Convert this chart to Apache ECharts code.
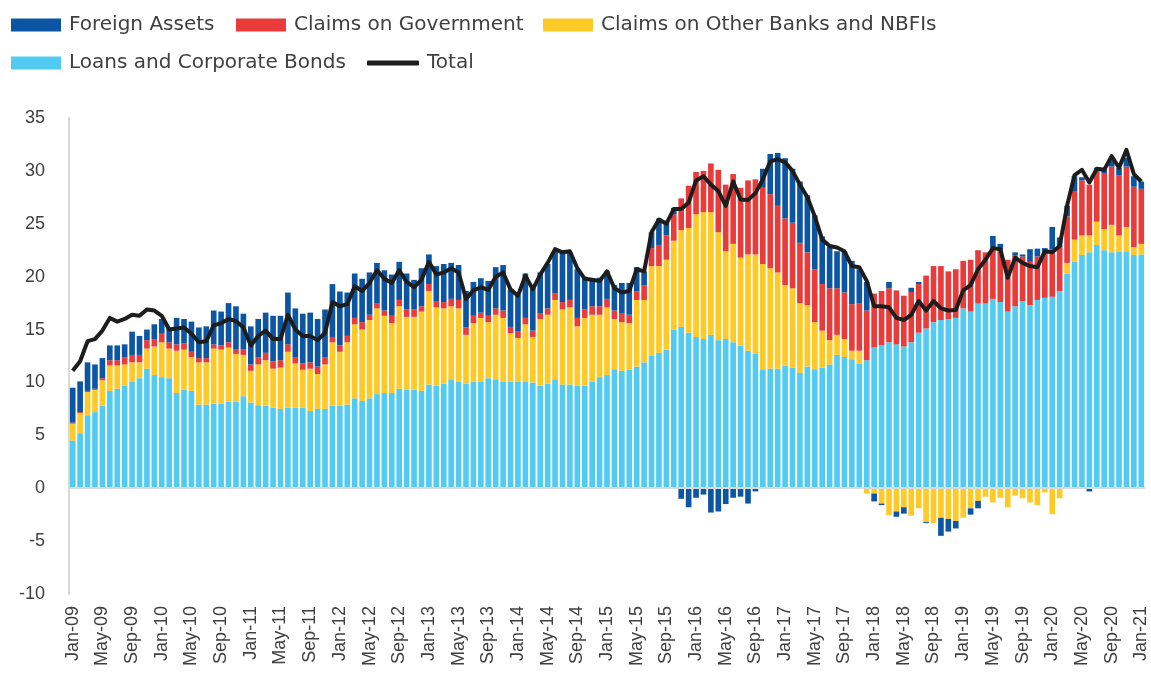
<!DOCTYPE html>
<html>
<head>
<meta charset="utf-8">
<script src="https://cdn.jsdelivr.net/npm/echarts@6/dist/echarts.min.js"></script>
<style>
html,body{margin:0;padding:0;background:#fff;}
#chart{width:1151px;height:677px;}
</style>
</head>
<body>
<div id="chart"></div>
<script>
// ---- Data (monthly, Jan-09 .. Jan-21) ----
const monthNames = ['Jan','Feb','Mar','Apr','May','Jun','Jul','Aug','Sep','Oct','Nov','Dec'];
const years = ['09','10','11','12','13','14','15','16','17','18','19','20','21'];

const loansCorporateBonds = [
  4.5,5.2,6.9,7.2,7.8,9.2,9.4,9.7,10.1,10.4,11.3,10.7,
  10.5,10.4,9.0,9.3,9.2,7.9,7.9,8.0,8.0,8.2,8.2,8.7,
  8.1,7.85,7.8,7.6,7.5,7.6,7.6,7.6,7.3,7.5,7.5,7.8,
  7.8,7.9,8.5,8.25,8.5,8.9,9.0,9.0,9.4,9.3,9.3,9.2,
  9.8,9.7,9.9,10.3,10.1,9.9,10.05,10.05,10.4,10.3,10.1,10.05,
  10.1,10.1,10.0,9.7,9.9,10.3,9.8,9.8,9.7,9.7,10.1,10.5,
  10.7,11.25,11.1,11.2,11.5,11.9,12.5,12.8,13.1,15.0,15.25,14.7,
  14.3,14.1,14.5,14.0,14.1,13.8,13.5,13.0,12.7,11.25,11.3,11.3,
  11.6,11.4,10.9,11.5,11.25,11.4,11.7,12.6,12.4,12.2,11.8,12.1,
  13.3,13.5,13.8,13.6,13.4,13.8,14.7,15.1,15.7,15.9,16.0,16.1,
  17.0,16.7,17.45,17.45,17.9,17.6,16.7,17.2,17.7,17.3,17.8,18.0,
  18.1,18.65,20.3,21.4,22.05,22.3,23.0,22.5,22.3,22.4,22.4,22.05,
  22.1
];
const claimsOtherBanks = [
  1.6,1.9,2.2,2.1,2.4,2.4,2.2,2.0,1.8,1.5,1.9,2.7,
  3.3,2.8,4.0,3.8,3.2,4.0,4.0,5.2,5.1,5.1,4.5,3.9,
  3.0,3.85,4.3,3.7,3.9,5.3,4.2,3.6,4.0,3.3,4.2,6.0,
  5.1,5.9,7.0,6.75,7.4,8.1,7.3,6.6,7.8,6.9,6.9,7.5,
  8.85,7.4,7.1,6.9,6.9,4.6,5.55,6.05,5.3,6.1,6.0,4.6,
  4.1,5.4,4.3,6.3,6.5,7.5,7.1,7.3,5.6,6.4,6.3,5.9,
  6.4,4.75,4.6,4.4,6.3,5.9,8.5,8.2,8.5,8.4,9.15,9.9,
  11.6,12.0,11.6,10.2,8.3,9.3,8.3,9.1,9.4,9.95,9.5,9.1,
  7.6,7.5,6.6,5.8,4.45,3.5,2.3,1.9,1.7,0.8,1.2,-0.5,
  -0.5,-1.45,-2.55,-2.2,-1.8,-2.6,-1.9,-3.2,-3.3,-2.8,-2.9,-3.1,
  -2.8,-1.9,-1.2,-0.8,-1.35,-0.9,-1.8,-0.7,-0.95,-1.35,-1.6,-0.4,
  -2.45,-0.95,1.0,2.1,1.85,1.6,2.2,2.0,2.6,1.5,2.3,0.75,
  1.0
];
const claimsGovernment = [
  0.1,0.1,0.1,0.1,0.2,0.5,0.5,0.65,0.7,0.7,0.8,0.7,
  0.8,0.6,0.6,0.6,0.5,0.4,0.4,0.4,0.4,0.5,0.4,0.5,
  0.6,0.65,0.7,0.7,0.7,0.7,0.6,0.6,0.6,0.7,0.65,0.5,
  0.6,0.6,0.6,0.7,0.5,0.5,0.5,0.7,0.6,0.7,0.7,0.5,
  0.65,0.6,0.6,0.7,0.8,0.7,0.7,0.5,0.6,0.6,0.7,0.6,
  0.6,0.6,0.6,0.5,0.6,0.6,0.7,0.7,0.8,0.8,0.8,0.8,
  0.8,0.8,0.8,0.8,0.8,1.4,1.7,2.0,2.3,2.5,3.0,4.0,
  4.0,3.9,4.6,5.9,6.3,6.6,6.6,7.0,7.1,7.2,7.0,6.3,
  6.3,6.2,5.7,5.0,5.0,4.4,4.9,4.4,4.4,4.4,4.5,4.7,
  5.1,5.15,5.1,5.1,4.8,4.75,4.6,5.0,5.3,5.1,4.5,4.6,
  4.5,4.9,5.05,4.85,4.9,5.0,4.9,4.8,4.2,4.1,4.1,4.3,
  4.5,4.15,4.4,4.6,5.2,4.8,4.8,5.3,5.5,5.7,5.7,5.7,
  5.2
];
const foreignAssets = [
  3.3,2.9,2.7,2.3,1.9,1.4,1.4,1.25,2.2,1.8,1.0,1.4,
  1.4,1.4,2.5,2.3,2.85,2.9,3.0,3.2,3.2,3.7,4.1,3.4,
  3.6,3.65,3.8,4.3,4.2,4.9,4.6,4.7,4.7,4.5,4.55,5.0,
  5.1,4.1,4.2,4.1,4.0,3.8,3.8,3.9,3.6,3.4,2.8,3.6,
  2.8,3.3,3.6,3.4,3.3,3.45,3.2,3.25,3.3,3.9,4.3,3.55,
  3.5,4.2,4.1,3.9,4.2,4.0,4.7,4.5,4.6,3.1,2.55,2.7,
  2.6,2.4,2.9,3.0,2.3,1.3,1.5,2.5,1.4,0.6,-1.0,-1.8,
  -0.9,-0.6,-2.3,-2.2,-1.5,-0.9,-0.8,-1.45,-0.3,1.8,3.8,5.0,
  5.7,5.1,5.8,5.4,5.1,4.5,3.9,3.5,3.9,4.1,3.2,2.7,
  -0.75,-0.15,0.6,-0.5,-0.6,0.4,0.2,-0.1,0,-1.7,-1.2,-0.7,
  0,-0.6,-0.7,0,1.05,0.5,0,0.3,0.2,1.2,0.75,0.4,
  2.1,0.9,1.0,1.4,0.3,-0.3,0.3,0.5,0.6,0.7,0.85,1.0,
  0.7
];
const total = [
  11.1,12.0,13.9,14.1,14.9,16.1,15.75,16.0,16.4,16.3,16.9,16.8,
  16.3,15.0,15.1,15.2,14.6,13.8,13.9,15.4,15.6,16.0,15.8,15.2,
  13.5,14.4,14.9,14.1,14.1,16.4,15.0,14.4,14.4,14.0,14.7,17.6,
  17.2,17.4,19.1,18.65,19.4,20.6,19.8,19.4,20.6,19.5,19.0,19.7,
  21.4,20.2,20.4,20.8,20.4,17.9,18.7,19.0,18.75,20.0,20.4,18.8,
  18.2,20.1,18.8,20.2,21.3,22.6,22.3,22.4,20.8,19.8,19.7,19.6,
  20.5,18.9,18.5,18.65,20.7,20.5,24.2,25.4,25.0,26.4,26.4,27.0,
  29.1,29.5,28.7,28.1,26.7,29.0,27.3,27.25,27.9,29.2,30.9,31.1,
  30.8,30.0,28.7,27.5,25.7,23.5,22.9,22.75,22.4,21.0,20.9,19.6,
  17.2,17.2,17.1,16.1,15.9,16.4,17.7,16.8,17.7,17.0,16.8,16.85,
  18.7,19.2,20.7,21.6,22.7,22.6,19.9,21.8,21.3,21.0,20.9,22.4,
  22.3,22.9,26.7,29.6,30.1,28.9,30.2,30.1,31.4,30.3,32.0,29.7,
  29.0
];

const categories = [];
years.forEach((y, yi) => {
  monthNames.forEach(m => {
    if (yi === years.length - 1 && m !== 'Jan') return;
    categories.push(m + '-' + y);
  });
});

const yTicks = { min: -10, max: 35, interval: 5 };

// ---- Chart ----
const textColor = '#404040';
const legendFont = { fontFamily: 'DejaVu Sans', fontSize: 20, color: textColor, padding: [0, 0, 0, 3] };
const chart = echarts.init(document.getElementById('chart'), null, { renderer: 'canvas' });

function barLegend(name, left, top) {
  return {
    data: [name], left: left, top: top, padding: 0,
    itemWidth: 50, itemHeight: 13, itemGap: 0,
    icon: 'rect', textStyle: legendFont, selectedMode: false
  };
}

const option = {
  animation: false,
  backgroundColor: '#ffffff',
  legend: [
    barLegend('Foreign Assets', 11, 15),
    barLegend('Claims on Government', 236, 15),
    barLegend('Claims on Other Banks and NBFIs', 543, 15),
    barLegend('Loans and Corporate Bonds', 11, 53),
    {
      data: [{ name: 'Total', icon: 'roundRect', itemStyle: { color: '#1d1d1d' } }],
      left: 367, top: 53, padding: 0,
      itemWidth: 52, itemHeight: 5, textStyle: legendFont, selectedMode: false
    }
  ],
  grid: { left: 69, right: 6, top: 118, bottom: 83, containLabel: false },
  xAxis: {
    type: 'category',
    data: categories,
    boundaryGap: true,
    axisLine: { show: false },
    axisTick: { show: false },
    axisLabel: {
      rotate: 90, interval: 3, margin: 12,
      fontFamily: 'Liberation Sans', fontSize: 18, color: textColor
    },
    splitLine: { show: false }
  },
  yAxis: {
    type: 'value',
    min: yTicks.min, max: yTicks.max, interval: yTicks.interval,
    axisLine: { show: true, lineStyle: { color: '#d9d9d9', width: 2 } },
    axisTick: { show: false },
    splitLine: { show: false },
    axisLabel: { margin: 24, fontFamily: 'Liberation Sans', fontSize: 18, color: textColor }
  },
  series: [
    {
      name: 'Loans and Corporate Bonds', type: 'bar', stack: 'total',
      data: loansCorporateBonds, barCategoryGap: '24%',
      itemStyle: { color: '#52cbf3' },
      markLine: {
        silent: true, symbol: 'none', label: { show: false },
        lineStyle: { color: '#d9d9d9', width: 2, type: 'solid' },
        data: [{ yAxis: 0 }]
      }
    },
    {
      name: 'Claims on Other Banks and NBFIs', type: 'bar', stack: 'total',
      data: claimsOtherBanks, itemStyle: { color: '#ffc926' }
    },
    {
      name: 'Claims on Government', type: 'bar', stack: 'total',
      data: claimsGovernment, itemStyle: { color: '#e83b3a' }
    },
    {
      name: 'Foreign Assets', type: 'bar', stack: 'total',
      data: foreignAssets, itemStyle: { color: '#0b55a3' }
    },
    {
      name: 'Total', type: 'line', data: total,
      symbol: 'none', z: 5,
      lineStyle: { color: '#1d1d1d', width: 4, join: 'round' },
      itemStyle: { color: '#1d1d1d' }
    }
  ]
};
chart.setOption(option);
</script>
</body>
</html>
